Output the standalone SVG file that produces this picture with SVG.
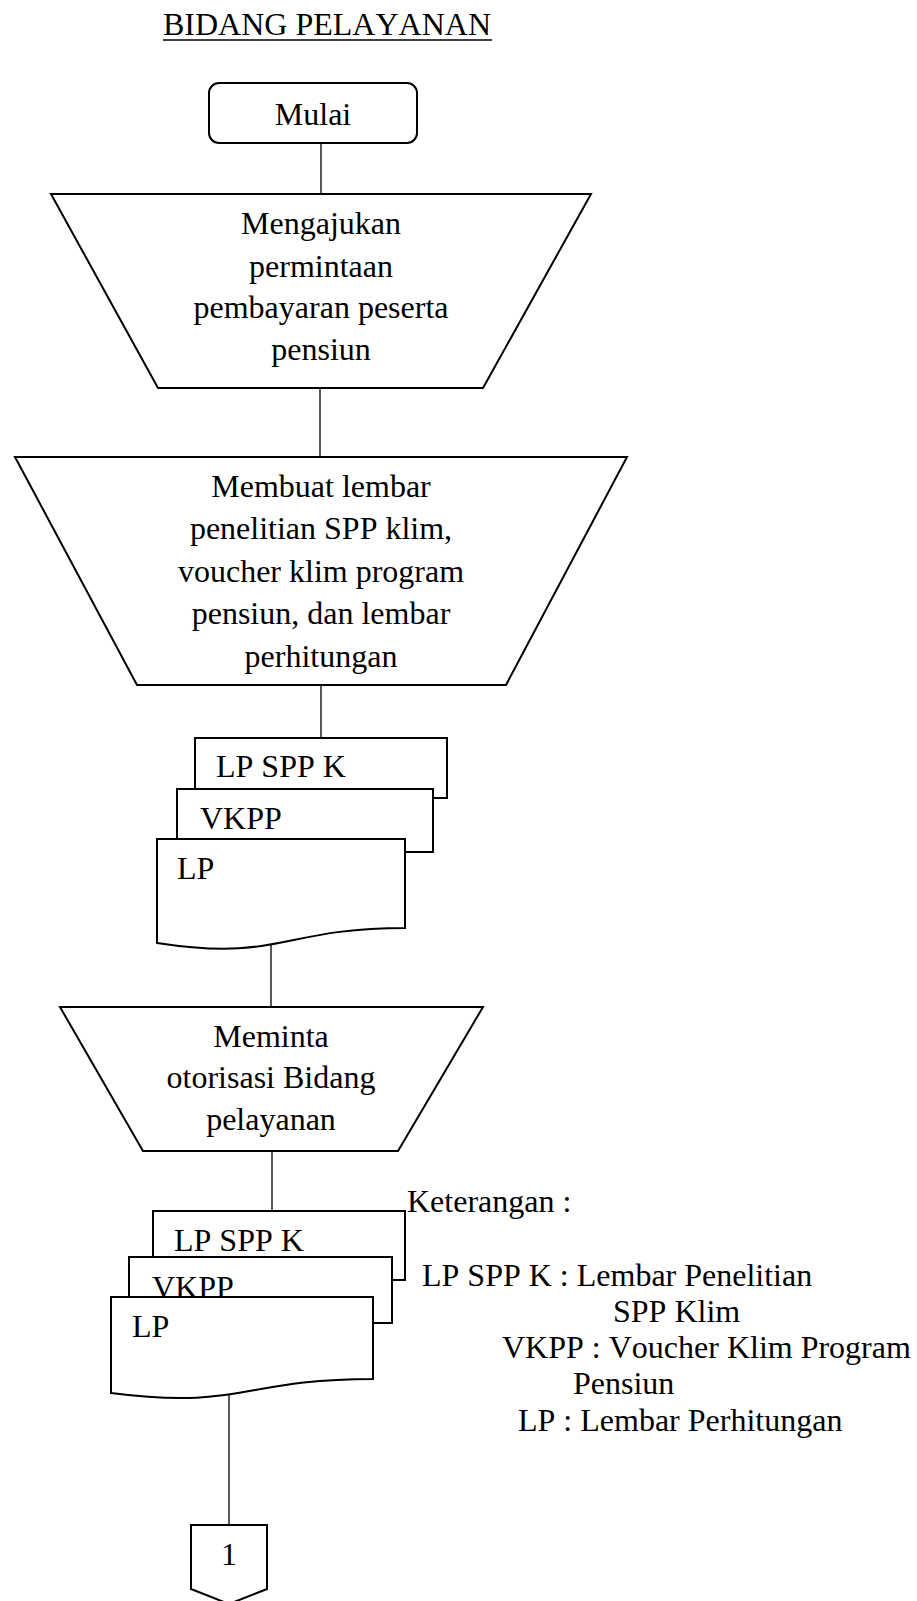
<svg xmlns="http://www.w3.org/2000/svg" width="917" height="1601" viewBox="0 0 917 1601">
<style>
text{font-family:"Liberation Serif","Times New Roman",serif;font-size:32px;fill:#000;font-kerning:none}
.c{text-anchor:middle}
.s{fill:#fff;stroke:#000;stroke-width:2;stroke-linejoin:miter}
.ln{stroke:#000;stroke-width:1.3;fill:none}
</style>
<rect width="917" height="1601" fill="#fff"/>
<g id="title">
<text x="163" y="35">BIDANG PELAYANAN</text>
<line x1="163" y1="40" x2="492" y2="40" stroke="#000" stroke-width="1.6"/>
</g>
<g id="connectors">
<line class="ln" x1="321" y1="143" x2="321" y2="194"/>
<line class="ln" x1="320" y1="388" x2="320" y2="457"/>
<line class="ln" x1="321" y1="685" x2="321" y2="738"/>
<line class="ln" x1="271" y1="945" x2="271" y2="1007"/>
<line class="ln" x1="272" y1="1151" x2="272" y2="1211"/>
<line class="ln" x1="229" y1="1395" x2="229" y2="1525"/>
</g>
<g id="mulai">
<rect class="s" x="209" y="83" width="208" height="60" rx="10"/>
<text class="c" x="313" y="125">Mulai</text>
</g>
<g id="trap1">
<path class="s" d="M51,194 L591,194 L483,388 L158,388 Z"/>
<text class="c" x="321" y="234">Mengajukan</text>
<text class="c" x="321" y="277">permintaan</text>
<text class="c" x="321" y="318">pembayaran peserta</text>
<text class="c" x="321" y="360">pensiun</text>
</g>
<g id="trap2">
<path class="s" d="M15,457 L627,457 L506,685 L137,685 Z"/>
<text class="c" x="321" y="497">Membuat lembar</text>
<text class="c" x="321" y="539">penelitian SPP klim,</text>
<text class="c" x="321" y="582">voucher klim program</text>
<text class="c" x="321" y="624">pensiun, dan lembar</text>
<text class="c" x="321" y="667">perhitungan</text>
</g>
<g id="docs1">
<rect class="s" x="195" y="738" width="252" height="60"/>
<text x="216" y="777">LP SPP K</text>
<rect class="s" x="177" y="789" width="256" height="63"/>
<text x="200" y="829">VKPP</text>
<path class="s" d="M157,839 H405 V928 C281,928 281,962 157,943 Z"/>
<text x="177" y="879">LP</text>
</g>
<g id="trap3">
<path class="s" d="M60,1007 L483,1007 L398,1151 L143,1151 Z"/>
<text class="c" x="271" y="1047">Meminta</text>
<text class="c" x="271" y="1088">otorisasi Bidang</text>
<text class="c" x="271" y="1130">pelayanan</text>
</g>
<g id="docs2">
<rect class="s" x="153" y="1211" width="252" height="69"/>
<text x="174" y="1251">LP SPP K</text>
<rect class="s" x="129" y="1257" width="263" height="66"/>
<text x="152" y="1298">VKPP</text>
<path class="s" d="M111,1297 H373 V1379 C242,1379 242,1410 111,1393 Z"/>
<text x="132" y="1337">LP</text>
</g>
<g id="offpage">
<path class="s" d="M191,1525 H267 V1589 L229,1604 L191,1589 Z"/>
<text class="c" x="229" y="1565">1</text>
</g>
<g id="legend">
<text x="407" y="1212">Keterangan :</text>
<text x="422" y="1286">LP SPP K : Lembar Penelitian</text>
<text x="613" y="1322">SPP Klim</text>
<text x="502" y="1358">VKPP : Voucher Klim Program</text>
<text x="573" y="1394">Pensiun</text>
<text x="518" y="1431">LP : Lembar Perhitungan</text>
</g>
</svg>
